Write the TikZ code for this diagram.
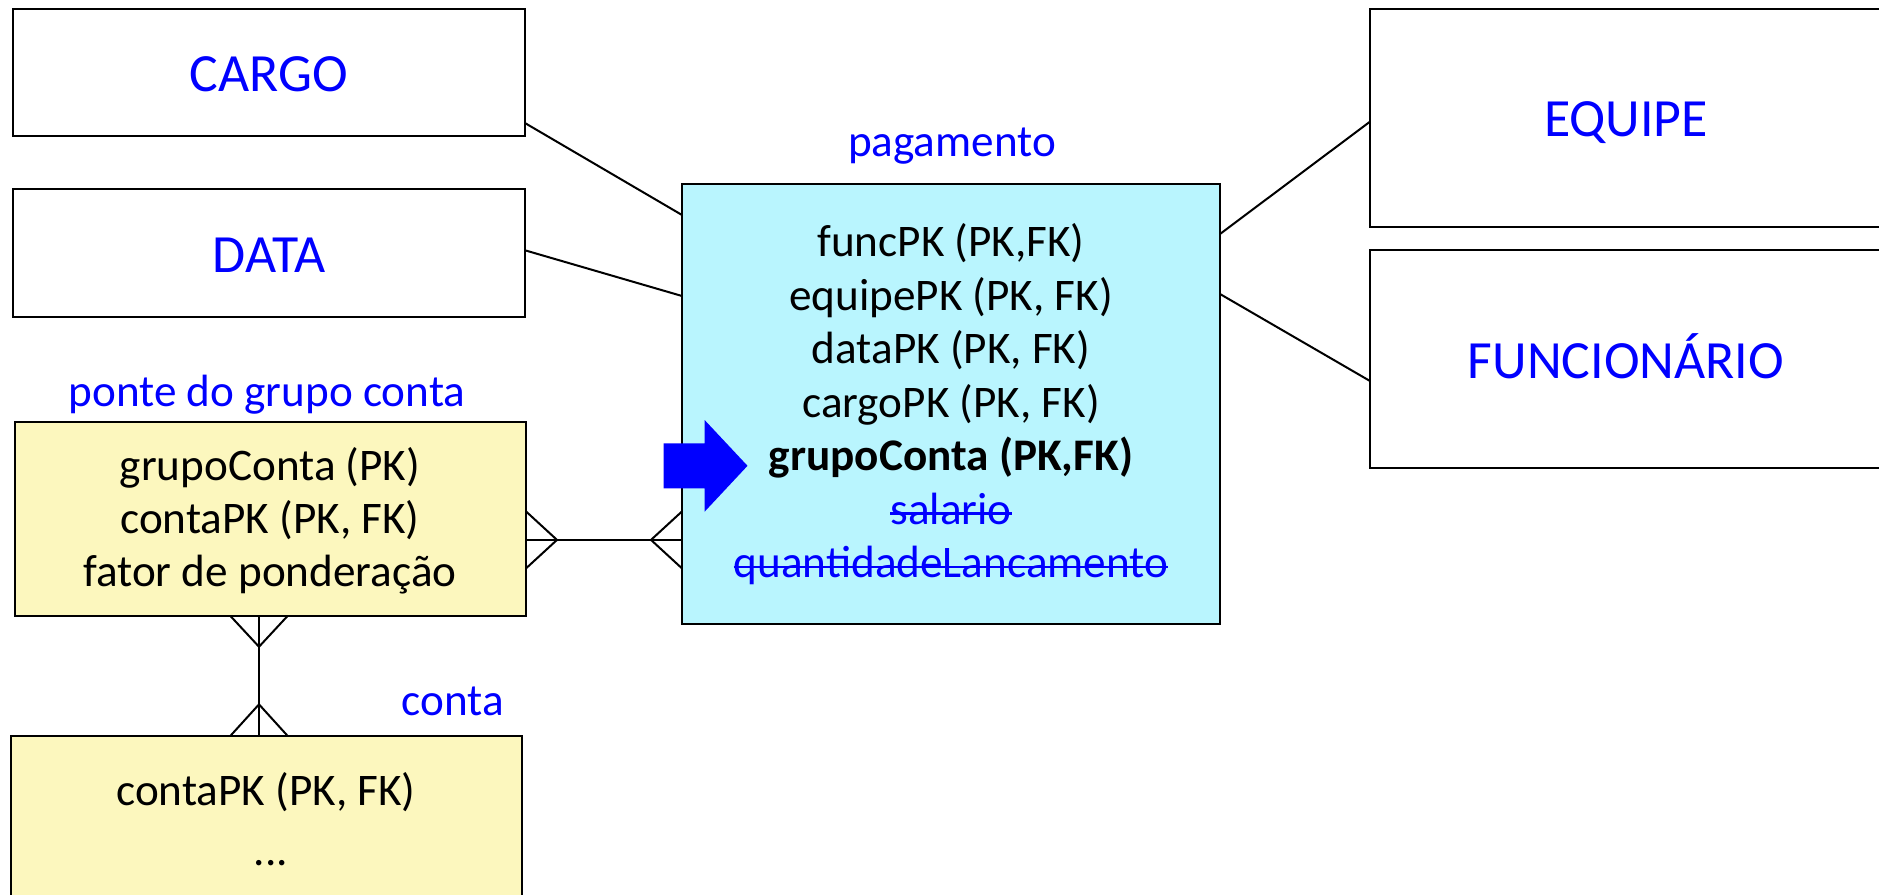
\documentclass[tikz,border=0pt]{standalone}
\usepackage{fontspec}
\setmainfont{Carlito}
\usetikzlibrary{calc}

% body and title sizes of the model text
\newcommand\corpo{\fontsize{45.2}{53.5}\selectfont}
\newcommand\titulo{\fontsize{53.8}{64}\selectfont}
% struck-through text (removed attributes)
\newcommand\riscado[1]{\setbox0\hbox{#1}\rlap{\rule[0.2em]{\wd0}{0.06em}}\box0}

\definecolor{fatocor}{RGB}{185,245,254}
\definecolor{pontecor}{RGB}{252,247,190}
\definecolor{azul}{RGB}{0,0,255}

\begin{document}
\begin{tikzpicture}[x=1pt,y=-1pt,
  every node/.style={inner sep=0pt,outer sep=0pt},
  dimbox/.style={draw=black,line width=2pt,fill=white,text=azul,font=\titulo,
    text height=38pt,text depth=0pt},
  tabbox/.style={draw=black,line width=2pt},
  conn/.style={draw=black,line width=2pt},
  linha/.style={anchor=base,font=\corpo},
  rotulo/.style={anchor=base,font=\corpo,text=azul}]

\useasboundingbox (0,0) rectangle (1879,894);
\fill[white] (0,0) rectangle (1879,894);
\clip (0,0) rectangle (1879,894);

% dimension tables
\node[dimbox,minimum width=512pt,minimum height=127.3pt] (cargo)  at (269,72.4)  {CARGO};
\node[dimbox,minimum width=512pt,minimum height=128pt]   (data)   at (269,253.3) {DATA};
\node[dimbox,minimum width=512pt,minimum height=218.3pt] (equipe) at (1626,117.8) {EQUIPE};
\node[dimbox,minimum width=512pt,minimum height=218pt]   (func)   at (1626,359)  {FUNCIONÁRIO};

% fact table
\node[tabbox,fill=fatocor,minimum width=538pt,minimum height=440pt] (pag) at (951,404) {};
\node[rotulo] (pagtit) at (952,156.7) {pagamento};
\node[linha] (l1) at (951,256.7) {funcPK (PK,FK)};
\node[linha] (l2) at (951,310.2) {equipePK (PK, FK)};
\node[linha] (l3) at (951,363.6) {dataPK (PK, FK)};
\node[linha] (l4) at (951,417.1) {cargoPK (PK, FK)};
\node[linha,font=\corpo\bfseries] (l5) at (951,470.5) {grupoConta (PK,FK)};
\node[linha,text=azul] (l6) at (951,524) {\riscado{salario}};
\node[linha,text=azul] (l7) at (951,577.5) {\riscado{quantidadeLancamento}};

% bridge table
\node[tabbox,fill=pontecor,minimum width=511.2pt,minimum height=194.3pt] (ponte) at (270.4,518.9) {};
\node[rotulo] (pontetit) at (267,406.7) {ponte do grupo conta};
\node[linha] (p1) at (270,480) {grupoConta (PK)};
\node[linha] (p2) at (270,533.3) {contaPK (PK, FK)};
\node[linha] (p3) at (270,586.7) {fator de ponderação};

% account table
\node[tabbox,fill=pontecor,minimum width=510.6pt,minimum height=174.3pt] (conta) at (266.7,822.9) {};
\node[rotulo] (contatit) at (453,715) {conta};
\node[linha] (c1) at (266,805) {contaPK (PK, FK)};
\node[linha] (c2) at (271,865) {...};

% dimension links
\draw[conn] ([yshift=13pt]cargo.south east) -- ([yshift=-31pt]pag.north west);
\draw[conn] ([yshift=67pt]data.south east) -- ([yshift=-112pt]pag.north west);
\draw[conn] ([yshift=-50pt]pag.north east) -- ([yshift=-113pt]equipe.north west);
\draw[conn] ([yshift=-110pt]pag.north east) -- ([yshift=-131pt]func.north west);

% many-to-many link: bridge -- fact
\coordinate (pe) at ([yshift=-21pt]ponte.east);
\coordinate (pw) at (pag.west |- pe);
\draw[conn] (pe) -- (pw);
\draw[conn] ([yshift=28.5pt]pe) -- ([xshift=31pt]pe) -- ([yshift=-28.5pt]pe);
\draw[conn] ([yshift=28.5pt]pw) -- ([xshift=-31pt]pw) -- ([yshift=-28.5pt]pw);

% many-to-many link: bridge -- account
\coordinate (ps) at ([xshift=-11.4pt]ponte.south);
\coordinate (cn) at (ps |- conta.north);
\draw[conn] (ps) -- (cn);
\draw[conn] ([xshift=-28.5pt]ps) -- ([yshift=-30.7pt]ps) -- ([xshift=28.5pt]ps);
\draw[conn] ([xshift=-28.5pt]cn) -- ([yshift=31.4pt]cn) -- ([xshift=28.5pt]cn);

% block arrow pointing at the new key
\fill[azul] (663.6,443.3) -- (704.6,443.3) -- (704.6,420) -- (747.5,465.8)
  -- (704.6,511.7) -- (704.6,488.3) -- (663.6,488.3) -- cycle;

\end{tikzpicture}
\end{document}
